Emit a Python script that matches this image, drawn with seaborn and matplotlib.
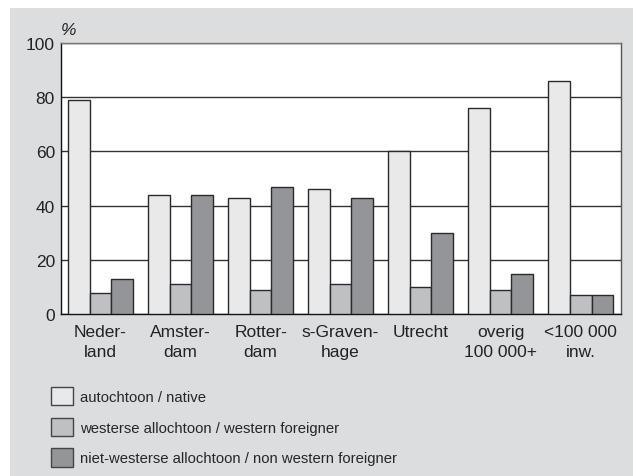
import pandas as pd
import matplotlib
matplotlib.use('Agg')
import matplotlib.pyplot as plt
import matplotlib.patches as mpatches
import seaborn as sns

# Données
categories = ['Neder-\nland', 'Amster-\ndam', 'Rotter-\ndam', 's-Graven-\nhage',
              'Utrecht', 'overig\n100 000+', '<100 000\ninw.']
groupes = ['autochtoon / native',
           'westerse allochtoon / western foreigner',
           'niet-westerse allochtoon / non western foreigner']
autochtoon = [79, 44, 43, 46, 60, 76, 86]
westers = [8, 11, 9, 11, 10, 9, 7]
niet_westers = [13, 44, 47, 43, 30, 15, 7]
y_ticks = [0, 20, 40, 60, 80, 100]

couleurs = ['#e8e9eb', '#bfc0c3', '#939598']

rows = []
for g, vals in zip(groupes, [autochtoon, westers, niet_westers]):
    for c, v in zip(categories, vals):
        rows.append({'cat': c, 'groupe': g, 'val': v})
df = pd.DataFrame(rows)

sns.set_theme(style='white')
plt.rcParams['font.family'] = ['Liberation Sans', 'DejaVu Sans']

fig = plt.figure(figsize=(6.33, 4.77), dpi=100)
fig.patch.set_facecolor('white')
# panneau gris
fond = mpatches.Rectangle((10 / 633, 0), 1, 1 - 9 / 477, transform=fig.transFigure,
                          facecolor='#dcdddf', edgecolor='none', zorder=-10)
fig.add_artist(fond)

ax = fig.add_axes([60.5 / 633, 1 - 315.3 / 477, 560.2 / 633, (315.3 - 43.7) / 477])
ax.set_zorder(1)
ax.set_facecolor('white')

sns.barplot(data=df, x='cat', y='val', hue='groupe', palette=couleurs,
            width=0.8125, edgecolor='#2a2a2a', linewidth=1.0, ax=ax,
            saturation=1, legend=False, zorder=3)

ax.set_ylim(0, 100)
ax.set_xlim(-0.5, 6.5)
ax.set_yticks(y_ticks)
ax.yaxis.grid(True, color='#333333', linewidth=1.0, zorder=1)
ax.set_axisbelow(True)
ax.tick_params(axis='both', length=0, labelsize=12.5, colors='#222222')
ax.tick_params(axis='x', pad=7)
ax.tick_params(axis='y', pad=4)
for lab in ax.get_xticklabels():
    lab.set_linespacing(1.45)
ax.set_xlabel('')
ax.set_ylabel('')

ax.spines['left'].set_color('#111111')
ax.spines['bottom'].set_color('#111111')
ax.spines['top'].set_color('#777777')
ax.spines['right'].set_color('#555555')
for s in ax.spines.values():
    s.set_linewidth(1.0)

ax.text(0.0, 1.02, '%', transform=ax.transAxes, fontsize=12.5, style='italic',
        ha='left', va='bottom', color='#222222')

handles = [mpatches.Patch(facecolor=c, edgecolor='#444444', linewidth=1.0) for c in couleurs]
fig.legend(handles, groupes, loc='upper left', bbox_to_anchor=(48 / 633, 1 - 385 / 477),
           frameon=False, fontsize=10.7, handlelength=1.5, handleheight=1.5,
           labelspacing=0.85, handletextpad=0.45, borderaxespad=0, borderpad=0.2)

fig.savefig('out.png', dpi=100)
